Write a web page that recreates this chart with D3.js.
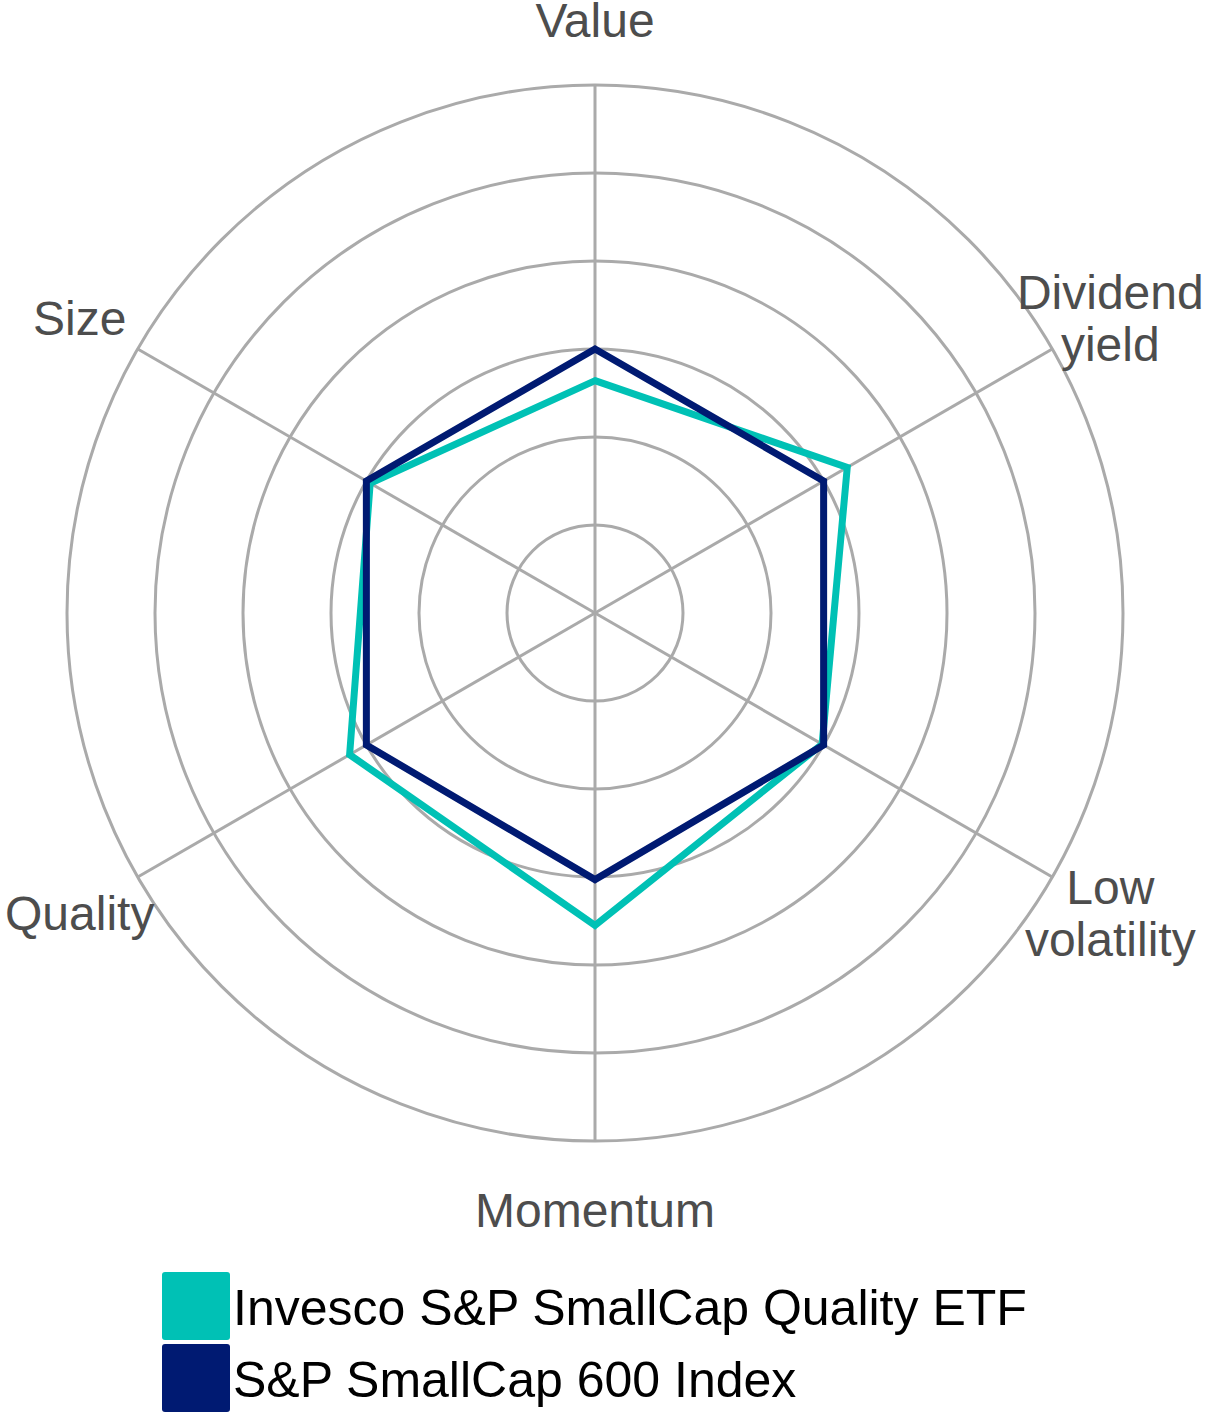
<!DOCTYPE html>
<html>
<head>
<meta charset="utf-8">
<script src="https://cdn.jsdelivr.net/npm/d3@7"></script>
<style>
  body { margin: 0; background: #fff; }
  svg { display: block; font-family: "Liberation Sans", Arial, sans-serif; }
</style>
</head>
<body>
<svg id="chart" width="1206" height="1416"></svg>
<script>
// axes, clockwise from the top
var axes = ["Value", "Dividend\nyield", "Low\nvolatility", "Momentum", "Quality", "Size"];
var seriesNames = ["Invesco S&P SmallCap Quality ETF", "S&P SmallCap 600 Index"];
var seriesColors = ["#00c1b5", "#001a72"];
var etfValues = [2.64, 3.31, 2.98, 3.55, 3.22, 2.95];
var indexValues = [3.0, 3.0, 3.0, 3.03, 3.0, 3.0];
var rings = [1, 2, 3, 4, 5, 6];

var svg = d3.select("#chart");
var cx = 595, cy = 613;

var r = d3.scaleLinear().domain([0, 6]).range([0, 528]);
var angle = d3.scalePoint().domain(d3.range(axes.length)).range([0, 2 * Math.PI * (axes.length - 1) / axes.length]);

var g = svg.append("g").attr("transform", "translate(" + cx + "," + cy + ")");

// rings
g.selectAll(".ring")
  .data(rings)
  .enter()
  .append("circle")
  .attr("class", "ring")
  .attr("r", function(d) { return r(d); })
  .attr("fill", "none")
  .attr("stroke", "#aaaaaa")
  .attr("stroke-width", 3);

// spokes
g.selectAll(".spoke")
  .data(axes)
  .enter()
  .append("line")
  .attr("class", "spoke")
  .attr("x1", 0).attr("y1", 0)
  .attr("x2", function(d, i) { return r(6) * Math.sin(angle(i)); })
  .attr("y2", function(d, i) { return -r(6) * Math.cos(angle(i)); })
  .attr("stroke", "#aaaaaa")
  .attr("stroke-width", 3);

// axis labels
var labelR = 595;
var lab = g.selectAll(".lab")
  .data(axes)
  .enter()
  .append("text")
  .attr("class", "lab")
  .attr("text-anchor", "middle")
  .attr("font-size", 48)
  .attr("fill", "#4d4d4d")
  .attr("transform", function(d, i) {
    return "translate(" + (labelR * Math.sin(angle(i))) + "," + (-labelR * Math.cos(angle(i))) + ")";
  });

lab.each(function(d) {
  var lines = d.split("\n");
  var t = d3.select(this);
  lines.forEach(function(line, k) {
    t.append("tspan")
      .attr("x", 0)
      .attr("y", 19 - (lines.length - 1) * 26 + k * 52)
      .text(line);
  });
});

// series
var line = d3.lineRadial()
  .angle(function(d, i) { return angle(i); })
  .radius(function(d) { return r(d); })
  .curve(d3.curveLinearClosed);

[etfValues, indexValues].forEach(function(vals, s) {
  g.append("path")
    .datum(vals)
    .attr("d", line)
    .attr("fill", "none")
    .attr("stroke", seriesColors[s])
    .attr("stroke-width", 7)
    .attr("stroke-linejoin", "miter");
});

// legend
var leg = svg.selectAll(".leg")
  .data(seriesNames)
  .enter()
  .append("g")
  .attr("class", "leg")
  .attr("transform", function(d, i) { return "translate(162," + (1272 + i * 72) + ")"; });

leg.append("rect")
  .attr("width", 68)
  .attr("height", 68)
  .attr("rx", 3)
  .attr("fill", function(d, i) { return seriesColors[i]; });

leg.append("text")
  .attr("x", 71)
  .attr("y", 53)
  .attr("font-size", 50)
  .attr("fill", "#000")
  .text(function(d) { return d; });
</script>
</body>
</html>
